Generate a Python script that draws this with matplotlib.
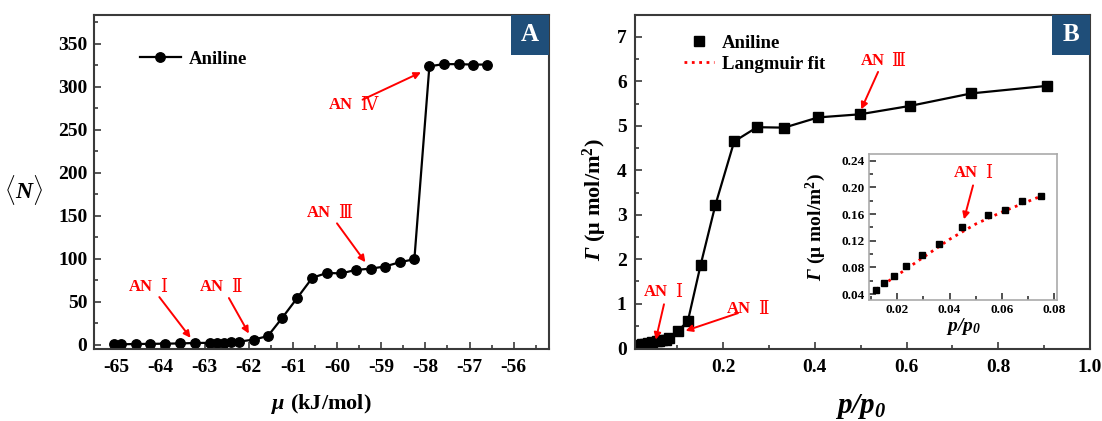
import matplotlib
matplotlib.use("Agg")
import matplotlib.pyplot as plt
from matplotlib.patches import Rectangle
from matplotlib.ticker import MultipleLocator
from matplotlib.transforms import offset_copy

plt.rcParams['font.family'] = ['Liberation Serif', 'DejaVu Serif', 'Noto Sans CJK SC']
plt.rcParams['font.weight'] = 'bold'
plt.rcParams['axes.unicode_minus'] = False
plt.rcParams['mathtext.fontset'] = 'custom'
plt.rcParams['mathtext.rm'] = 'Liberation Serif:bold'
plt.rcParams['mathtext.it'] = 'Liberation Serif:italic:bold'
plt.rcParams['mathtext.bf'] = 'Liberation Serif:bold'
# slanted slot used for symbols that mathtext would otherwise keep upright (Γ, digits)
plt.rcParams['mathtext.sf'] = 'Liberation Serif:italic:bold'

# (A) loading vs chemical potential
mu = [-65.06, -64.90, -64.56, -64.24, -63.90, -63.56, -63.22, -62.89, -62.73, -62.57,
      -62.41, -62.23, -61.89, -61.57, -61.24, -60.91, -60.56, -60.23, -59.91, -59.58,
      -59.24, -58.92, -58.58, -58.25, -57.91, -57.59, -57.25, -56.92, -56.60]
N = [0.5, 0.5, 0.8, 1.0, 1.2, 1.5, 2.0, 2.2, 2.4, 2.5,
     2.8, 3.5, 6.0, 10.0, 31.5, 54.0, 78.0, 83.5, 83.0, 87.0,
     88.5, 91.0, 96.0, 99.5, 324.0, 326.5, 326.5, 326.0, 326.0]

# (B) isotherm, low-pressure part (also shown in the inset)
p_low = [0.0119, 0.0150, 0.0187, 0.0233, 0.0295, 0.0361, 0.0446, 0.0547, 0.0610, 0.0676, 0.0749]
g_low = [0.0465, 0.057, 0.0665, 0.0825, 0.0985, 0.1155, 0.140, 0.1585, 0.1655, 0.1795, 0.187]
p_high = [0.082, 0.101, 0.123, 0.151, 0.183, 0.224, 0.274, 0.333, 0.407, 0.498, 0.608, 0.741, 0.906]
g_high = [0.22, 0.38, 0.61, 1.88, 3.22, 4.65, 4.97, 4.96, 5.19, 5.26, 5.45, 5.73, 5.90]
p_all = p_low + p_high
g_all = g_low + g_high

# Langmuir fit curve
p_fit = [0.012, 0.020, 0.030, 0.040, 0.050, 0.060, 0.070, 0.075]
g_fit = [0.047, 0.068, 0.095, 0.122, 0.145, 0.163, 0.179, 0.187]

red = '#ff0000'
spine_col = '#3a3a3a'
box_col = '#1f4e79'
gamma_label = r'$\mathsf{Γ}\ \mathbf{(μ\ mol/m^2)}$'
ratio_label = r'$\mathsf{p/p_0}$'

fig = plt.figure(figsize=(11.02, 4.21), dpi=100)
axA = fig.add_axes([0.0856, 0.171, 0.4126, 0.794])
axB = fig.add_axes([0.5762, 0.171, 0.4129, 0.794])
axI = fig.add_axes([0.7886, 0.2874, 0.1706, 0.3468])


def style(ax, size, spine_c=spine_col, lw=1.5):
    for s in ax.spines.values():
        s.set_color(spine_c)
        s.set_linewidth(lw)
    ax.tick_params(which='both', direction='in', top=False, right=False,
                   color=spine_c, width=1.2, labelsize=size)
    ax.tick_params(which='major', length=5)
    ax.tick_params(which='minor', length=3)


def bold_ticks(ax):
    for t in ax.get_xticklabels() + ax.get_yticklabels():
        t.set_fontweight('bold')


def panel_tag(ax, letter):
    ax.add_patch(Rectangle((1 - 0.0836, 1 - 0.12), 0.0836, 0.12, transform=ax.transAxes,
                           facecolor=box_col, edgecolor='none', zorder=5, clip_on=False))
    ax.text(1 - 0.0418, 1 - 0.06, letter, transform=ax.transAxes, color='white',
            fontsize=18, fontweight='bold', ha='center', va='center', zorder=6)


def mark(ax, numeral, xy, xytext, size=12):
    # arrow from the label towards the point, label "AN" in bold + a light roman numeral
    ax.annotate('', xy=xy, xytext=xytext,
                arrowprops=dict(arrowstyle='-|>', color=red, lw=1.4,
                                mutation_scale=10, shrinkA=9, shrinkB=0))
    ax.text(*xytext, 'AN', color=red, fontsize=size, fontweight='bold', ha='right', va='center',
            transform=offset_copy(ax.transData, fig=fig, x=1, y=0, units='points'))
    ax.text(*xytext, numeral, color=red, fontsize=size + 1, fontweight='normal',
            family=['DejaVu Serif', 'Noto Sans CJK SC'], ha='left', va='center',
            transform=offset_copy(ax.transData, fig=fig, x=6, y=0, units='points'))


# ---- panel A ----
axA.plot(mu, N, '-o', color='black', lw=1.6, ms=6.8, label='Aniline')
axA.set_xlim(-65.5, -55.2)
axA.set_ylim(-5, 384)
axA.xaxis.set_major_locator(MultipleLocator(1))
axA.xaxis.set_minor_locator(MultipleLocator(0.5))
axA.yaxis.set_major_locator(MultipleLocator(50))
axA.yaxis.set_minor_locator(MultipleLocator(25))
style(axA, 14)
axA.tick_params(axis='x', pad=7)
axA.tick_params(axis='y', pad=5)
axA.set_xlabel(r'$\mu\ \mathbf{(kJ/mol)}$', fontsize=16)
axA.xaxis.set_label_coords(0.5, -0.13)
axA.set_ylabel(r'$\langle N\rangle$', fontsize=17, rotation=0, va='center', ha='center')
axA.yaxis.set_label_coords(-0.155, 0.476)
axA.legend(loc='center left', bbox_to_anchor=(0.1, 0.867), frameon=False, fontsize=13.5,
           handlelength=2.2, handletextpad=0.4, borderpad=0, borderaxespad=0, numpoints=1)
panel_tag(axA, 'A')

mark(axA, 'Ⅰ', (-63.32, 8), (-64.2, 67))
mark(axA, 'Ⅱ', (-62.0, 13), (-62.59, 67))
mark(axA, 'Ⅲ', (-59.36, 96), (-60.17, 153))
mark(axA, 'Ⅳ', (-58.1, 317), (-59.68, 279))

# ---- panel B ----
axB.plot(p_all, g_all, '-s', color='black', lw=1.6, ms=6.5, label='Aniline')
axB.plot([], [], ':', color=red, lw=2, label='Langmuir fit')
axB.set_xlim(0.0076, 1.0)
axB.set_ylim(-0.02, 7.5)
axB.xaxis.set_major_locator(MultipleLocator(0.2))
axB.xaxis.set_minor_locator(MultipleLocator(0.1))
axB.yaxis.set_major_locator(MultipleLocator(1))
axB.yaxis.set_minor_locator(MultipleLocator(0.5))
style(axB, 14)
axB.tick_params(axis='x', pad=7)
axB.tick_params(axis='y', pad=6)
axB.set_xticks([0.2, 0.4, 0.6, 0.8, 1.0])
axB.set_xticklabels(['0.2', '0.4', '0.6', '0.8', '1.0'])
axB.set_xlabel(ratio_label, fontsize=21)
axB.xaxis.set_label_coords(0.496, -0.13)
axB.set_ylabel(gamma_label, fontsize=16)
axB.yaxis.set_label_coords(-0.056, 0.446)
h, l = axB.get_legend_handles_labels()
lg = axB.legend(h, l, loc='center left', bbox_to_anchor=(0.108, 0.883), frameon=False,
                fontsize=13.5, handlelength=1.6, handletextpad=0.42, labelspacing=0.22,
                borderpad=0, borderaxespad=0, numpoints=1)
lg.legend_handles[0].set_linestyle('none')
panel_tag(axB, 'B')

mark(axB, 'Ⅲ', (0.501, 5.37), (0.549, 6.47))
mark(axB, 'Ⅰ', (0.053, 0.19), (0.077, 1.26))
mark(axB, 'Ⅱ', (0.118, 0.39), (0.258, 0.876))

# ---- inset ----
axI.plot(p_fit, g_fit, ':', color=red, lw=2.0)
axI.plot(p_low, g_low, 's', color='black', ms=4.5)
axI.set_xlim(0.0093, 0.081)
axI.set_ylim(0.031, 0.25)
axI.xaxis.set_major_locator(MultipleLocator(0.02))
axI.xaxis.set_minor_locator(MultipleLocator(0.01))
axI.yaxis.set_major_locator(MultipleLocator(0.04))
axI.yaxis.set_minor_locator(MultipleLocator(0.02))
style(axI, 9.5, spine_c='#aaaaaa', lw=1.2)
axI.tick_params(which='both', color='#333333', pad=3)
axI.set_xlabel(ratio_label, fontsize=14, labelpad=0)
axI.set_ylabel(gamma_label, fontsize=14, labelpad=10)
mark(axI, 'Ⅰ', (0.0455, 0.152), (0.0502, 0.221))

fig.canvas.draw()
for ax in (axA, axB, axI):
    bold_ticks(ax)

fig.savefig('out.png', dpi=100)
